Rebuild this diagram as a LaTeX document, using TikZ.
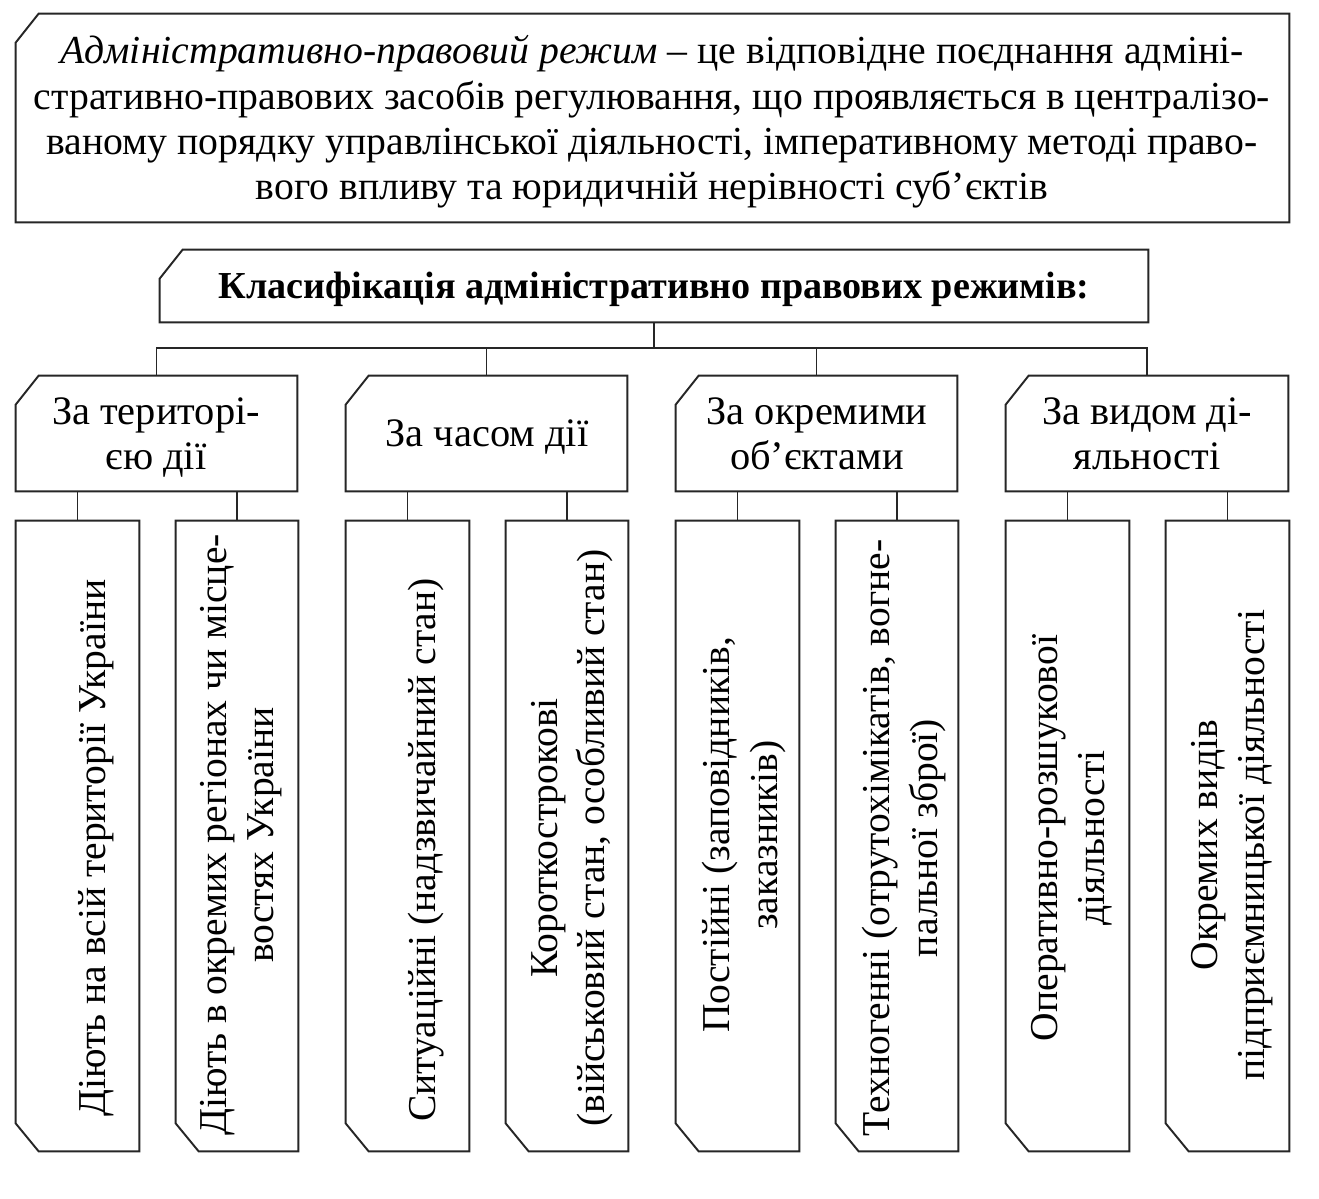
\documentclass[tikz,border=0pt]{standalone}
\usepackage{fontspec}
\setmainfont{Liberation Serif}
\usetikzlibrary{fit}
\newcommand\cutNW[1]{\draw[frame] ([yshift=-0.58cm]#1.north west) -- ([xshift=0.46cm]#1.north west) -- (#1.north east) -- (#1.south east) -- (#1.south west) -- cycle;}
\newcommand\cutSW[1]{\draw[frame] ([yshift=0.56cm]#1.south west) -- (#1.north west) -- (#1.north east) -- (#1.south east) -- ([xshift=0.46cm]#1.south west) -- cycle;}
\begin{document}
\begin{tikzpicture}[x=0.02cm,y=-0.02cm,
  frame/.style={draw=black!85, line width=1.1pt, line join=miter},
  conn/.style={draw=black!85, line width=1.1pt},
  area/.style={inner sep=0pt, draw=none},
  toptext/.style={font=\fontsize{22.6}{25.8}\selectfont, align=center, inner sep=0pt},
  headtext/.style={font=\fontsize{21.7}{25.6}\selectfont\bfseries, align=center, inner sep=0pt},
  cattext/.style={font=\fontsize{23}{25.6}\selectfont, align=center, inner sep=0pt},
  leaftext/.style={font=\fontsize{22.5}{27}\selectfont, align=center, rotate=90, inner sep=0pt},
]
\useasboundingbox (0,0) rectangle (1319,1199);
\fill[white] (0,0) rectangle (1319,1199);

% boxes
\node[area, fit={(16,14)(1289,222)}] (top) {};
\node[area, fit={(160,250)(1148,322)}] (head) {};
\node[area, fit={(16,376)(297,491)}] (c1) {};
\node[area, fit={(346,376)(627,491)}] (c2) {};
\node[area, fit={(676,376)(957,491)}] (c3) {};
\node[area, fit={(1006,376)(1288,491)}] (c4) {};
\node[area, fit={(16,521)(139,1151)}] (l1a) {};
\node[area, fit={(176,521)(298,1151)}] (l1b) {};
\node[area, fit={(346,521)(469,1151)}] (l2a) {};
\node[area, fit={(506,521)(628,1151)}] (l2b) {};
\node[area, fit={(676,521)(799,1151)}] (l3a) {};
\node[area, fit={(836,521)(958,1151)}] (l3b) {};
\node[area, fit={(1006,521)(1129,1151)}] (l4a) {};
\node[area, fit={(1166,521)(1289,1151)}] (l4b) {};

\foreach \n in {top,head,c1,c2,c3,c4} {\cutNW{\n}}
\foreach \n in {l1a,l1b,l2a,l2b,l3a,l3b,l4a,l4b} {\cutSW{\n}}

% texts
\node[toptext] (toptxt) at (652,122) {\textit{Адміністративно-правовий режим} – це відповідне поєднання адміні-\\стративно-правових засобів регулювання, що проявляється в централізо-\\ваному порядку управлінської діяльності, імперативному методі право-\\вого впливу та юридичній нерівності суб’єктів};
\node[headtext] (headtxt) at (654,289) {Класифікація адміністративно правових режимів:};
\node[cattext] (c1t) at (156,438) {За територі-\\єю дії};
\node[cattext] (c2t) at (487,437) {За часом дії};
\node[cattext] (c3t) at (817,434) {За окремими\\об’єктами};
\node[cattext] (c4t) at (1147,434) {За видом ді-\\яльності};

\node[leaftext] (l1at) at (96,848) {Діють на всій території України};
\node[leaftext] (l1bt) at (241,835) {Діють в окремих регіонах чи місце-\\востях України};
\node[leaftext] (l2at) at (426,850) {Ситуаційні (надзвичайний стан)};
\node[leaftext] (l2bt) at (572,838) {Короткострокові\\(військовий стан, особливий стан)};
\node[leaftext] (l3at) at (744,835) {Постійні (заповідників,\\заказників)};
\node[leaftext] (l3bt) at (904,838) {Техногенні (отрутохімікатів, вогне-\\пальної зброї)};
\node[leaftext] (l4at) at (1072,838) {Оперативно-розшукової\\діяльності};
\node[leaftext] (l4bt) at (1232,845) {Окремих видів\\підприємницької діяльності};

% connectors
\coordinate (bus) at (652,348);
\draw[conn] (head.south) -- (head.south |- bus);
\draw[conn] (c1.north) -- (c1.north |- bus) -- (c4.north |- bus) -- (c4.north);
\draw[conn] (c2.north) -- (c2.north |- bus);
\draw[conn] (c3.north) -- (c3.north |- bus);
\draw[conn] (l1a.north) -- (l1a.north |- c1.south);
\draw[conn] (l1b.north) -- (l1b.north |- c1.south);
\draw[conn] (l2a.north) -- (l2a.north |- c2.south);
\draw[conn] (l2b.north) -- (l2b.north |- c2.south);
\draw[conn] (l3a.north) -- (l3a.north |- c3.south);
\draw[conn] (l3b.north) -- (l3b.north |- c3.south);
\draw[conn] (l4a.north) -- (l4a.north |- c4.south);
\draw[conn] (l4b.north) -- (l4b.north |- c4.south);
\end{tikzpicture}
\end{document}
